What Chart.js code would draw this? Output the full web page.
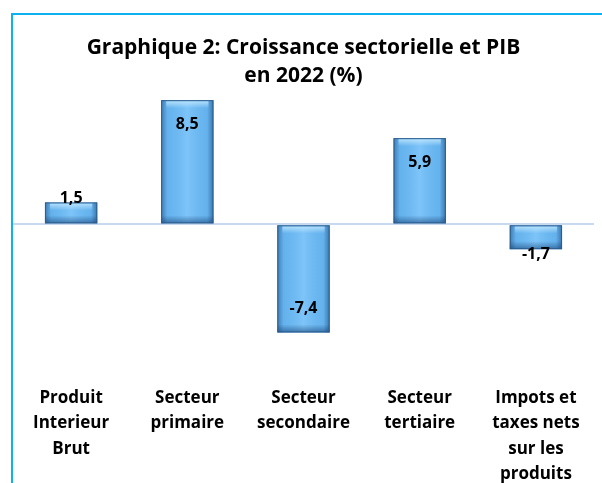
<!DOCTYPE html>
<html>
<head>
<meta charset="utf-8">
<script src="https://cdn.jsdelivr.net/npm/chart.js@4.4.1/dist/chart.umd.min.js"></script>
<style>
	html, body { margin: 0; padding: 0; background: #fff; }
	#frame { position: absolute; left: 11px; top: 13px; width: 600px; height: 480px;
		border-left: 2px solid #0db1ef; border-top: 2px solid #0db1ef; }
	#wrap { position: absolute; left: 0; top: 0; width: 602px; height: 483px; }
</style>
</head>
<body>
<div id="frame"></div>
<div id="wrap"><canvas id="chart" width="602" height="483"></canvas></div>
<script>
// data
const categories = [
	['Produit', 'Interieur', 'Brut'],
	['Secteur', 'primaire'],
	['Secteur', 'secondaire'],
	['Secteur', 'tertiaire'],
	['Impots et', 'taxes nets', 'sur les', 'produits']
];
const growth = [1.5, 8.5, -7.4, 5.9, -1.7];
const titleLines = ['Graphique 2: Croissance sectorielle et PIB', 'en 2022 (%)'];

const FONT = '"Open Sans", Lato, sans-serif';

// bevel look on top of the plain bars
const bevelPlugin = {
	id: 'bevel',
	afterDatasetsDraw(chart) {
		const ctx = chart.ctx;
		chart.getDatasetMeta(0).data.forEach(function (bar) {
			const p = bar.getProps(['x', 'y', 'base', 'width']);
			const l = p.x - p.width / 2, r = p.x + p.width / 2;
			const t = Math.min(p.y, p.base), b = Math.max(p.y, p.base);
			ctx.save();
			let g = ctx.createLinearGradient(l, 0, r, 0);
			g.addColorStop(0, 'rgba(20,60,110,0.5)');
			g.addColorStop(0.12, 'rgba(20,60,110,0.08)');
			g.addColorStop(0.5, 'rgba(255,255,255,0.12)');
			g.addColorStop(0.88, 'rgba(20,60,110,0.08)');
			g.addColorStop(1, 'rgba(20,60,110,0.55)');
			ctx.fillStyle = g;
			ctx.fillRect(l, t, r - l, b - t);
			// light strip at the top
			let h = Math.min(8, (b - t) / 2);
			let g2 = ctx.createLinearGradient(0, t, 0, t + h);
			g2.addColorStop(0, 'rgba(200,235,255,0.9)');
			g2.addColorStop(1, 'rgba(200,235,255,0)');
			ctx.fillStyle = g2;
			ctx.fillRect(l + 5, t + 1, r - l - 10, h);
			// dark strip at the bottom
			let g3 = ctx.createLinearGradient(0, b - h, 0, b);
			g3.addColorStop(0, 'rgba(20,60,110,0)');
			g3.addColorStop(1, 'rgba(20,60,110,0.55)');
			ctx.fillStyle = g3;
			ctx.fillRect(l, b - h, r - l, h);
			ctx.strokeStyle = '#2d5d8e';
			ctx.lineWidth = 1;
			ctx.strokeRect(l + 0.5, t + 0.5, r - l - 1, b - t - 1);
			ctx.restore();
		});
	}
};

// value labels: inside end for big bars, just outside for small ones
const labelPlugin = {
	id: 'valueLabels',
	afterDatasetsDraw(chart) {
		const ctx = chart.ctx;
		ctx.save();
		ctx.font = 'bold 16px ' + FONT;
		ctx.fillStyle = '#000';
		ctx.textAlign = 'center';
		ctx.textBaseline = 'middle';
		chart.getDatasetMeta(0).data.forEach(function (bar, i) {
			const v = growth[i];
			let y;
			if (Math.abs(v) > 3) y = v > 0 ? bar.y + 24 : bar.y - 24;
			else y = v > 0 ? bar.y - 4 : bar.y + 5;
			ctx.fillText(String(v).replace('.', ','), bar.x, y);
		});
		ctx.restore();
	}
};

new Chart(document.getElementById('chart'), {
	type: 'bar',
	data: {
		labels: categories,
		datasets: [{
			data: growth,
			backgroundColor: '#6bbcf8',
			borderWidth: 0,
			barPercentage: 0.45,
			categoryPercentage: 1
		}]
	},
	options: {
		responsive: false,
		animation: false,
		layout: { padding: { left: 13, right: 8, top: 20, bottom: 0 } },
		plugins: {
			legend: { display: false },
			tooltip: { enabled: false },
			title: {
				display: true,
				text: titleLines,
				color: '#000',
				font: { family: FONT, size: 21, weight: 'bold', lineHeight: 1.33 },
				padding: { top: 14, bottom: 3 }
			}
		},
		scales: {
			x: {
				grid: { display: false, drawTicks: false },
				border: { display: false },
				ticks: {
					color: '#000',
					font: { family: FONT, size: 17, weight: 'bold', lineHeight: 1.5 },
					padding: 0,
					maxRotation: 0,
					autoSkip: false
				},
				afterFit(scale) { scale.height = 98; }
			},
			y: {
				min: -11,
				max: 9,
				ticks: { display: false, stepSize: 1 },
				border: { display: false },
				grid: {
					drawTicks: false,
					lineWidth: 2,
					color(c) { return c.tick && c.tick.value === 0 ? '#c8daf0' : 'rgba(0,0,0,0)'; }
				}
			}
		}
	},
	plugins: [bevelPlugin, labelPlugin]
});
</script>
</body>
</html>
